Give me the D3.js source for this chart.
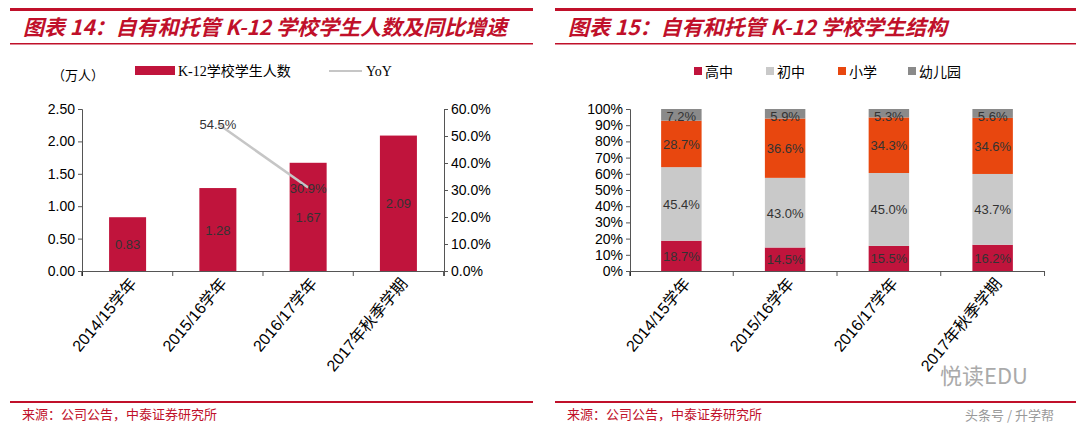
<!DOCTYPE html>
<html><head><meta charset="utf-8">
<script src="https://cdn.jsdelivr.net/npm/d3@7/dist/d3.min.js"></script>
<style>body{margin:0;background:#fff}svg{display:block}</style></head>
<body><svg id="c" width="1080" height="426"></svg>
<script>
const categories=["2014/15学年","2015/16学年","2016/17学年","2017年秋季学期"];
const students=[0.83,1.28,1.67,2.09];
const yoy=[null,54.5,30.9,null];
const leftTicks=[0,0.5,1,1.5,2,2.5];
const rightTicks=[0,10,20,30,40,50,60];
const seriesNames=["高中","初中","小学","幼儿园"];
const gaozhong=[18.7,14.5,15.5,16.2];
const chuzhong=[45.4,43.0,45.0,43.7];
const xiaoxue=[28.7,36.6,34.3,34.6];
const youer=[7.2,5.9,5.3,5.6];
const pctTicks=[0,10,20,30,40,50,60,70,80,90,100];
const colors=["#c0143c","#c9c9c9","#e8470f","#8a8a8a"];
const RED="#c0102a", CJK="'Noto Sans CJK SC',sans-serif", LAT="Arial,'Liberation Sans',sans-serif";
const svg=d3.select("#c");

function frame(x0,x1,title){
  svg.append("rect").attr("x",x0).attr("y",8).attr("width",x1-x0).attr("height",3).attr("fill",RED);
  svg.append("rect").attr("x",x0).attr("y",43).attr("width",x1-x0).attr("height",1.5).attr("fill",RED);
  svg.append("text").attr("x",x0+13).attr("y",35).attr("fill",RED).attr("font-family",CJK)
    .attr("font-size",21).attr("font-weight","bold").attr("font-style","italic").text(title);
  svg.append("rect").attr("x",x0).attr("y",401).attr("width",x1-x0).attr("height",2).attr("fill",RED);
  svg.append("text").attr("x",x0+12).attr("y",419).attr("fill",RED).attr("font-family",CJK)
    .attr("font-size",13).text("来源：公司公告，中泰证券研究所");
}
frame(10,533,"图表 14：自有和托管 K-12 学校学生人数及同比增速");
frame(555,1076,"图表 15：自有和托管 K-12 学校学生结构");

// LEFT chart
const x=d3.scaleBand().domain(categories).range([82,444]).paddingInner(0.59).paddingOuter(0.3);
const y=d3.scaleLinear().domain([0,2.5]).range([271,109]);
const y2=d3.scaleLinear().domain([0,60]).range([271,109]);
const g=svg.append("g");
g.selectAll(".b").data(students).join("rect").attr("x",(d,i)=>x(categories[i])).attr("width",x.bandwidth())
  .attr("y",d=>y(d)).attr("height",d=>271-y(d)).attr("fill",colors[0]);
g.selectAll(".bl").data(students).join("text").attr("x",(d,i)=>x(categories[i])+x.bandwidth()/2)
  .attr("y",d=>(y(d)+271)/2+5).attr("text-anchor","middle").attr("font-family",LAT).attr("font-size",13)
  .attr("fill","#333").text(d=>d.toFixed(2));
const pts=yoy.map((v,i)=>v==null?null:[x(categories[i])+x.bandwidth()/2,y2(v)]).filter(d=>d);
g.append("path").attr("d",d3.line()(pts)).attr("stroke","#c6c6c6").attr("stroke-width",2.5).attr("fill","none");
yoy.forEach((v,i)=>{if(v==null)return;g.append("text").attr("x",x(categories[i])+x.bandwidth()/2).attr("y",y2(v)+5)
  .attr("text-anchor","middle").attr("font-family",LAT).attr("font-size",13).attr("fill","#333").text(v.toFixed(1)+"%");});
const ax=g.append("g").attr("transform","translate(0,271)").call(d3.axisBottom(x).tickSize(5).tickFormat(""));
ax.selectAll("line").attr("x1",x.step()/2).attr("x2",x.step()/2);
ax.append("line").attr("x1",82).attr("x2",82).attr("y2",5).attr("stroke","#000");
g.append("g").attr("transform","translate(82,0)").call(d3.axisLeft(y).tickValues(leftTicks).tickSize(4).tickFormat(d3.format(".2f")));
g.append("g").attr("transform","translate(444,0)").call(d3.axisRight(y2).tickValues(rightTicks).tickSize(4).tickFormat(d=>d.toFixed(1)+"%"));
categories.forEach(c=>{g.append("text").attr("transform",`translate(${x(c)+x.bandwidth()/2+10},${284}) rotate(-50)`)
  .attr("text-anchor","end").attr("font-family",LAT+","+CJK).attr("font-size",16).attr("fill","#000").text(c);});
svg.append("text").attr("x",52).attr("y",80).attr("font-family",CJK).attr("font-size",13).text("（万人）");
svg.append("rect").attr("x",135).attr("y",66).attr("width",40).attr("height",9).attr("fill",colors[0]);
svg.append("text").attr("x",178).attr("y",76).attr("font-family","'Liberation Serif',"+CJK).attr("font-size",14).text("K-12学校学生人数");
svg.append("line").attr("x1",329).attr("x2",362).attr("y1",71).attr("y2",71).attr("stroke","#c6c6c6").attr("stroke-width",2);
svg.append("text").attr("x",366).attr("y",76).attr("font-family","'Liberation Serif'").attr("font-size",14).text("YoY");

// RIGHT chart
const xr=d3.scaleBand().domain(categories).range([630,1044]).paddingInner(0.61).paddingOuter(0.3);
const yr=d3.scaleLinear().domain([0,100]).range([271,109]);
const rows=categories.map((c,i)=>({c,高中:gaozhong[i],初中:chuzhong[i],小学:xiaoxue[i],幼儿园:youer[i]}));
const stack=d3.stack().keys(seriesNames)(rows);
const gr=svg.append("g");
stack.forEach((s,k)=>{
  s.forEach((d,i)=>{
    const top=Math.min(d[1],100);
    gr.append("rect").attr("x",xr(d.data.c)).attr("width",xr.bandwidth()).attr("y",yr(top)).attr("height",yr(d[0])-yr(top)).attr("fill",colors[k]);
    const ly=k==3?yr(100)+12:(yr(d[0])+yr(top))/2+5;
    gr.append("text").attr("x",xr(d.data.c)+xr.bandwidth()/2).attr("y",ly).attr("text-anchor","middle")
      .attr("font-family",LAT).attr("font-size",13).attr("fill","#333").text(d.data[s.key].toFixed(1)+"%");
  });
});
const axr=gr.append("g").attr("transform","translate(0,271)").call(d3.axisBottom(xr).tickSize(5).tickFormat(""));
axr.selectAll("line").attr("x1",xr.step()/2).attr("x2",xr.step()/2);
axr.append("line").attr("x1",630).attr("x2",630).attr("y2",5).attr("stroke","#000");
gr.append("g").attr("transform","translate(630,0)").call(d3.axisLeft(yr).tickValues(pctTicks).tickSize(4).tickFormat(d=>d+"%"));
categories.forEach(c=>{gr.append("text").attr("transform",`translate(${xr(c)+xr.bandwidth()/2+10},${284}) rotate(-50)`)
  .attr("text-anchor","end").attr("font-family",LAT+","+CJK).attr("font-size",16).attr("fill","#000").text(c);});
const lx=[694,766,838,908];
seriesNames.forEach((n,i)=>{svg.append("rect").attr("x",lx[i]).attr("y",67).attr("width",8).attr("height",8).attr("fill",colors[i]);
  svg.append("text").attr("x",lx[i]+11).attr("y",77).attr("font-family",CJK).attr("font-size",14).text(n);});
svg.selectAll(".tick text").attr("font-family",LAT).attr("font-size",14).attr("fill","#000");
svg.selectAll(".domain,.tick line").attr("stroke","#555");
svg.append("text").attr("x",940).attr("y",384).attr("font-family",CJK).attr("font-size",22).attr("fill","#aaa").text("悦读EDU");
svg.append("text").attr("x",965).attr("y",420).attr("font-family",CJK).attr("font-size",13).attr("fill","#999").text("头条号 / 升学帮");
</script></body></html>
